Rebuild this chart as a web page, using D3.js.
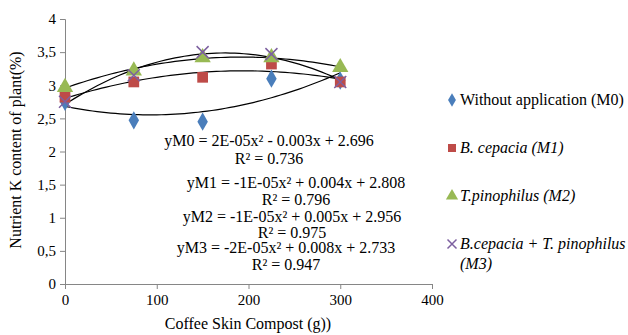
<!DOCTYPE html>
<html>
<head>
<meta charset="utf-8">
<script src="https://cdn.jsdelivr.net/npm/d3@7"></script>
</head>
<body style="margin:0">
<script>
// data
var doses = [0, 75, 150, 225, 300];
var m0 = [2.75, 2.47, 2.45, 3.1, 3.07];
var m1 = [2.82, 3.05, 3.12, 3.32, 3.05];
var m2 = [2.97, 3.22, 3.42, 3.42, 3.27];
var m3 = [2.75, 3.15, 3.5, 3.47, 3.05];
var yTicks = [0, 0.5, 1, 1.5, 2, 2.5, 3, 3.5, 4];
var xTicks = [0, 100, 200, 300, 400];
var names = ["Without application (M0)", "B. cepacia (M1)", "T.pinophilus (M2)", "B.cepacia + T. pinophilus", "(M3)"];
var equations = [
	["yM0 = 2E-05x\u00b2 - 0.003x + 2.696", "R\u00b2 = 0.736"],
	["yM1 = -1E-05x\u00b2 + 0.004x + 2.808", "R\u00b2 = 0.796"],
	["yM2 = -1E-05x\u00b2 + 0.005x + 2.956", "R\u00b2 = 0.975"],
	["yM3 = -2E-05x\u00b2 + 0.008x + 2.733", "R\u00b2 = 0.947"]
];

var series = [
	{vals: m0, color: "#4a7ebb", shape: "diamond"},
	{vals: m1, color: "#be4b48", shape: "square"},
	{vals: m2, color: "#98b954", shape: "triangle"},
	{vals: m3, color: "#7d60a0", shape: "cross"}
];

var svg = d3.select("body").append("svg")
	.attr("width", 628)
	.attr("height", 335)
	.attr("font-family", "Liberation Serif");

function label(sel, size){
	size = size || 16;
	return sel.attr("font-family", "Liberation Serif").attr("font-size", size)
		.style("font-family", "'Liberation Serif'").style("font-size", size + "px");
}

var x = d3.scaleLinear().domain([0, 400]).range([65, 432]);
var y = d3.scaleLinear().domain([0, 4]).range([284, 19]);

var fmt = function(d){ return String(d).replace(".", ","); };

var yAxis = svg.append("g")
	.attr("transform", "translate(65,0)")
	.call(d3.axisLeft(y).tickValues(yTicks).tickSize(5).tickFormat(fmt));
var xAxis = svg.append("g")
	.attr("transform", "translate(0,284)")
	.call(d3.axisBottom(x).tickValues(xTicks).tickSize(5));

[yAxis, xAxis].forEach(function(a){
	a.attr("font-family", "Liberation Serif").attr("font-size", 15);
	a.selectAll("path, line").attr("stroke", "#868686");
	label(a.selectAll("text"), 15).attr("fill", "#000");
});
yAxis.selectAll("text").attr("x", -9);
xAxis.selectAll("text").attr("y", 10);

label(svg.append("text"))
	.attr("transform", "translate(21,150) rotate(-90)")
	.attr("text-anchor", "middle")
	.text("Nutrient K content of plant(%)");

label(svg.append("text"))
	.attr("x", 248)
	.attr("y", 329)
	.attr("text-anchor", "middle")
	.text("Coffee Skin Compost (g))");

// least squares quadratic fit
function quadFit(xs, ys){
	var n = xs.length, s = [0,0,0,0,0], t = [0,0,0];
	for (var i = 0; i < n; i++) {
		for (var k = 0; k < 5; k++) s[k] += Math.pow(xs[i], k);
		for (var k = 0; k < 3; k++) t[k] += ys[i] * Math.pow(xs[i], k);
	}
	var A = [[s[0], s[1], s[2], t[0]], [s[1], s[2], s[3], t[1]], [s[2], s[3], s[4], t[2]]];
	for (var c = 0; c < 3; c++) {
		for (var r = c + 1; r < 3; r++) {
			var f = A[r][c] / A[c][c];
			for (var k = c; k < 4; k++) A[r][k] -= f * A[c][k];
		}
	}
	var b = [0,0,0];
	for (var r = 2; r >= 0; r--) {
		var v = A[r][3];
		for (var k = r + 1; k < 3; k++) v -= A[r][k] * b[k];
		b[r] = v / A[r][r];
	}
	return function(v){ return b[0] + b[1]*v + b[2]*v*v; };
}

var line = d3.line().x(function(d){ return x(d[0]); }).y(function(d){ return y(d[1]); });

series.forEach(function(s){
	var f = quadFit(doses, s.vals);
	var pts = d3.range(0, 301, 5).map(function(v){ return [v, f(v)]; });
	svg.append("path")
		.attr("d", line(pts))
		.attr("fill", "none")
		.attr("stroke", "#000")
		.attr("stroke-width", 1.2);
});

function drawMarker(g, s, cx, cy, scale){
	scale = scale || 1;
	if (s.shape == "cross") {
		var r = 6 * scale;
		g.append("path")
			.attr("d", "M" + (cx-r) + "," + (cy-r) + "L" + (cx+r) + "," + (cy+r) + "M" + (cx-r) + "," + (cy+r) + "L" + (cx+r) + "," + (cy-r))
			.attr("stroke", s.color)
			.attr("stroke-width", 1.5)
			.attr("fill", "none");
	} else {
		var p = d3.symbol().type(s.shape == "diamond" ? d3.symbolDiamond : s.shape == "square" ? d3.symbolSquare : d3.symbolTriangle)
			.size((s.shape == "diamond" ? 95 : 115) * scale * scale);
		g.append("path")
			.attr("d", p())
			.attr("transform", "translate(" + cx + "," + cy + ")")
			.attr("fill", s.color);
	}
}

series.forEach(function(s){
	var g = svg.append("g");
	doses.forEach(function(d, i){
		drawMarker(g, s, x(d), y(s.vals[i]));
	});
});

// equations
var eqPos = [[269, 146, 164], [296, 188, 205], [292, 222, 238], [286, 253, 270]];
equations.forEach(function(e, i){
	label(svg.append("text")).attr("x", eqPos[i][0]).attr("y", eqPos[i][1])
		.attr("text-anchor", "middle").text(e[0]);
	label(svg.append("text")).attr("x", eqPos[i][0]).attr("y", eqPos[i][2])
		.attr("text-anchor", "middle").text(e[1]);
});

// legend
var legY = [100, 148, 196, 244];
series.forEach(function(s, i){
	var g = svg.append("g");
	drawMarker(g, s, 452, legY[i], 0.75);
	label(svg.append("text"))
		.attr("x", 460)
		.attr("y", legY[i] + 5)
		.style("font-style", i == 0 ? "normal" : "italic")
		.text(names[i]);
});
label(svg.append("text"))
	.attr("x", 460)
	.attr("y", 269)
	.style("font-style", "italic")
	.text(names[4]);
</script>
</body>
</html>
